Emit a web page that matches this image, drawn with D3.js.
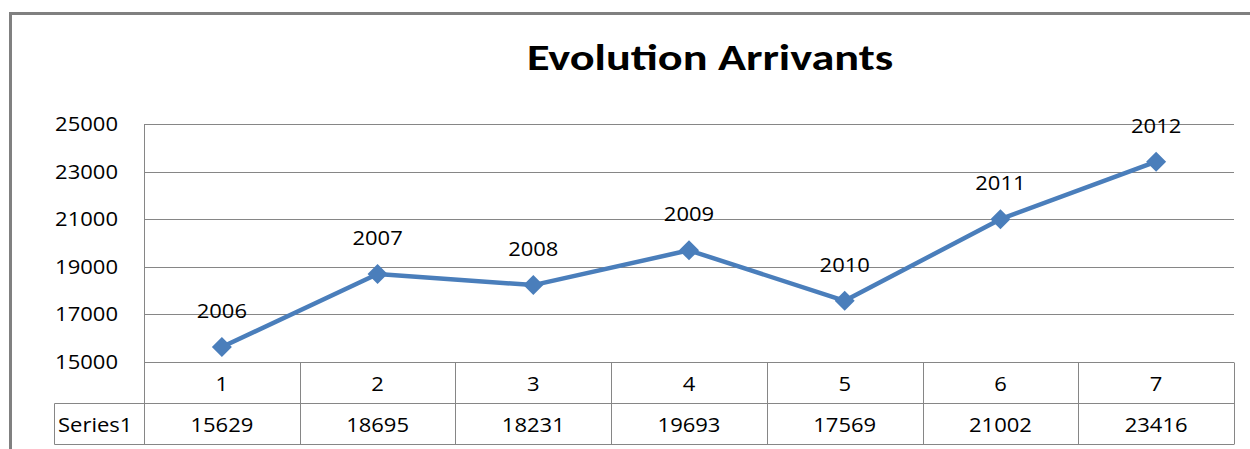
<!DOCTYPE html>
<html>
<head>
<meta charset="utf-8">
<script src="https://cdn.jsdelivr.net/npm/d3@7"></script>
<style>
  html, body { margin: 0; padding: 0; background: #fff; }
  svg { display: block; font-family: "Open Sans", Lato, sans-serif; }
  .title { font-family: Carlito, Lato, sans-serif; }
</style>
</head>
<body>
<div id="chart"></div>
<script>
// Data
const categories = ["1", "2", "3", "4", "5", "6", "7"];
const years = ["2006", "2007", "2008", "2009", "2010", "2011", "2012"];
const values = [15629, 18695, 18231, 19693, 17569, 21002, 23416];
const yTicks = [15000, 17000, 19000, 21000, 23000, 25000];
const seriesName = "Series1";

const width = 1250;
const height = 449;
const plot = { left: 144, right: 1234, top: 124, bottom: 362 };
const rowH = 41;
const gridColor = "#868686";
const lineColor = "#4a7ebb";
const stretch = 1.1; // the reference text is wide, stretch glyphs horizontally
const fs = "20px";

const svg = d3.select("#chart").append("svg")
  .attr("width", width)
  .attr("height", height);

// places a horizontally stretched text at (tx, ty)
const place = (tx, ty, k = stretch) => `translate(${tx},${ty}) scale(${k},1)`;

// Outer chart border (runs off right and bottom edges)
svg.append("path")
  .attr("d", `M10.5,${height + 5} V13.5 H${width + 5}`)
  .attr("fill", "none")
  .attr("stroke", "#808080")
  .attr("stroke-width", 3);

// Title
svg.append("text")
  .attr("class", "title")
  .attr("transform", place(710, 70, 1.25))
  .attr("text-anchor", "middle")
  .style("font-size", "37px")
  .style("font-weight", "bold")
  .style("fill", "#000")
  .text("Evolution Arrivants");

const x = d3.scaleBand().domain(categories).range([plot.left, plot.right]).padding(0);
const y = d3.scaleLinear().domain([15000, 25000]).range([plot.bottom, plot.top]);

// Grid lines
svg.append("g")
  .selectAll("line")
  .data(yTicks.filter(d => d > 15000))
  .join("line")
  .attr("x1", plot.left)
  .attr("x2", plot.right)
  .attr("y1", d => Math.round(y(d)) + 0.5)
  .attr("y2", d => Math.round(y(d)) + 0.5)
  .attr("stroke", gridColor)
  .attr("stroke-width", 1);

// Y axis labels
svg.append("g")
  .selectAll("text")
  .data(yTicks)
  .join("text")
  .attr("transform", d => place(118, y(d) + 7))
  .attr("text-anchor", "end")
  .style("font-size", fs)
  .style("fill", "#000")
  .text(d => d);

// Data table below the plot
const table = svg.append("g").attr("stroke", gridColor).attr("stroke-width", 1);
const t0 = Math.round(y(15000)) + 0.5;
const t1 = t0 + rowH;
const t2 = t1 + rowH;
table.append("line").attr("x1", plot.left).attr("x2", plot.right).attr("y1", t0).attr("y2", t0);
table.append("line").attr("x1", 54.5).attr("x2", plot.right).attr("y1", t1).attr("y2", t1);
table.append("line").attr("x1", 54.5).attr("x2", plot.right).attr("y1", t2).attr("y2", t2);
table.append("line").attr("x1", plot.left + 0.5).attr("x2", plot.left + 0.5).attr("y1", plot.top).attr("y2", t2);
table.append("line").attr("x1", 54.5).attr("x2", 54.5).attr("y1", t1).attr("y2", t2);
table.selectAll(".col")
  .data(categories)
  .join("line")
  .attr("class", "col")
  .attr("x1", d => Math.round(x(d) + x.bandwidth()) + 0.5)
  .attr("x2", d => Math.round(x(d) + x.bandwidth()) + 0.5)
  .attr("y1", t0)
  .attr("y2", t2);

svg.append("g")
  .selectAll("text")
  .data(categories)
  .join("text")
  .attr("transform", d => place(x(d) + x.bandwidth() / 2, (t0 + t1) / 2 + 8))
  .attr("text-anchor", "middle")
  .style("font-size", fs)
  .text(d => d);

svg.append("text")
  .attr("transform", place(58, (t1 + t2) / 2 + 8))
  .style("font-size", fs)
  .text(seriesName);

svg.append("g")
  .selectAll("text")
  .data(values)
  .join("text")
  .attr("transform", (d, i) => place(x(categories[i]) + x.bandwidth() / 2, (t1 + t2) / 2 + 8))
  .attr("text-anchor", "middle")
  .style("font-size", fs)
  .text(d => d);

// Series line
const cx = i => x(categories[i]) + x.bandwidth() / 2;
const line = d3.line().x((d, i) => cx(i)).y(d => y(d));

svg.append("path")
  .datum(values)
  .attr("d", line)
  .attr("fill", "none")
  .attr("stroke", lineColor)
  .attr("stroke-width", 4.5)
  .attr("stroke-linejoin", "round");

// Square diamond markers
const r = 10;
svg.append("g")
  .selectAll("path")
  .data(values)
  .join("path")
  .attr("d", `M0,${-r}L${r},0L0,${r}L${-r},0Z`)
  .attr("transform", (d, i) => `translate(${cx(i)},${y(d)})`)
  .attr("fill", lineColor);

// Year labels above points
svg.append("g")
  .selectAll("text")
  .data(values)
  .join("text")
  .attr("transform", (d, i) => place(cx(i), y(d) - 29))
  .attr("text-anchor", "middle")
  .style("font-size", fs)
  .text((d, i) => years[i]);
</script>
</body>
</html>
